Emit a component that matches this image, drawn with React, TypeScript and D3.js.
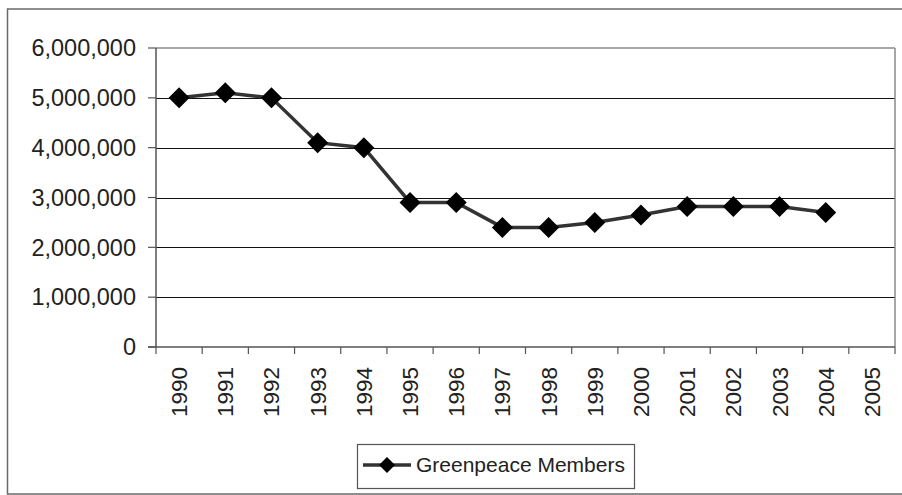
import React from "react";
import * as d3 from "d3";

const years = ["1990","1991","1992","1993","1994","1995","1996","1997","1998","1999","2000","2001","2002","2003","2004","2005"];
const memberYears = ["1990","1991","1992","1993","1994","1995","1996","1997","1998","1999","2000","2001","2002","2003","2004"];
const members = [5000000, 5100000, 5000000, 4100000, 4000000, 2900000, 2900000, 2400000, 2400000, 2500000, 2650000, 2820000, 2820000, 2820000, 2700000];
const yTicks = [0, 1000000, 2000000, 3000000, 4000000, 5000000, 6000000];
const seriesName = "Greenpeace Members";

const W = 902, H = 495;
const plot = { left: 156, right: 895, top: 48, bottom: 347 };
const FONT = "'Liberation Sans', Arial, sans-serif";

export default function App() {
  const x = d3.scaleBand<string>().domain(years).range([plot.left, plot.right]).padding(0);
  const y = d3.scaleLinear().domain([0, 6000000]).range([plot.bottom, plot.top]);
  const cx = (yr: string) => (x(yr) as number) + x.bandwidth() / 2;
  const fmt = d3.format(",");
  const data = memberYears.map((yr, i) => ({ yr, v: members[i] }));
  const line = d3.line<{ yr: string; v: number }>().x(d => cx(d.yr)).y(d => y(d.v));
  const diamond = (s: number) => `M0,${-s} L${s},0 L0,${s} L${-s},0 Z`;
  const edges = years.map(yr => x(yr) as number).concat([plot.right]);

  const legend = { x: 357, y: 444, w: 277, h: 44 };

  return (
    <svg width={W} height={H} style={{ position: "absolute", left: 0, top: 0, background: "#fff" }} fontFamily={FONT}>
      <rect x={0} y={0} width={W} height={H} fill="#fff" />
      {/* outer chart border */}
      <rect x={7.5} y={9} width={W + 10} height={485} fill="none" stroke="#6a6a6a" strokeWidth={1.5} />
      {/* gridlines */}
      {yTicks.filter(t => t > 0 && t < 6000000).map(t => (
        <line key={t} x1={plot.left} x2={plot.right} y1={Math.round(y(t)) + 0.5} y2={Math.round(y(t)) + 0.5} stroke="#111" strokeWidth={1} />
      ))}
      {/* plot border top/right */}
      <line x1={plot.left} x2={plot.right} y1={plot.top} y2={plot.top} stroke="#8a8a8a" strokeWidth={1.5} />
      <line x1={plot.right} x2={plot.right} y1={plot.top} y2={plot.bottom} stroke="#8a8a8a" strokeWidth={1.5} />
      {/* y axis */}
      <line x1={plot.left} x2={plot.left} y1={plot.top} y2={plot.bottom} stroke="#555" strokeWidth={1.5} />
      {yTicks.map(t => (
        <g key={t}>
          <line x1={plot.left - 8} x2={plot.left} y1={y(t)} y2={y(t)} stroke="#555" strokeWidth={1.2} />
          <text x={136} y={y(t)} dy="0.35em" textAnchor="end" fontSize={23.5} fill="#222">{fmt(t)}</text>
        </g>
      ))}
      {/* x axis */}
      <line x1={plot.left - 8} x2={plot.right} y1={plot.bottom} y2={plot.bottom} stroke="#555" strokeWidth={1.5} />
      {edges.map((e, i) => (
        <line key={i} x1={e} x2={e} y1={plot.bottom} y2={plot.bottom + 7} stroke="#555" strokeWidth={1.2} />
      ))}
      {years.map(yr => (
        <text key={yr} transform={`translate(${cx(yr) + 8},367) rotate(-90)`} textAnchor="end" fontSize={22.5} fill="#222">{yr}</text>
      ))}
      {/* series */}
      <path d={line(data) as string} fill="none" stroke="#333" strokeWidth={3.5} />
      {data.map(d => (
        <path key={d.yr} d={diamond(10.5)} transform={`translate(${cx(d.yr)},${y(d.v)})`} fill="#000" />
      ))}
      {/* legend */}
      <rect x={legend.x + 0.5} y={legend.y + 0.5} width={legend.w} height={legend.h} fill="#fff" stroke="#555" strokeWidth={1.2} />
      <line x1={363} x2={411} y1={465} y2={465} stroke="#333" strokeWidth={3.5} />
      <path d={diamond(8)} transform="translate(387,465)" fill="#000" />
      <text x={416} y={472} fontSize={21} fill="#222">{seriesName}</text>
    </svg>
  );
}
